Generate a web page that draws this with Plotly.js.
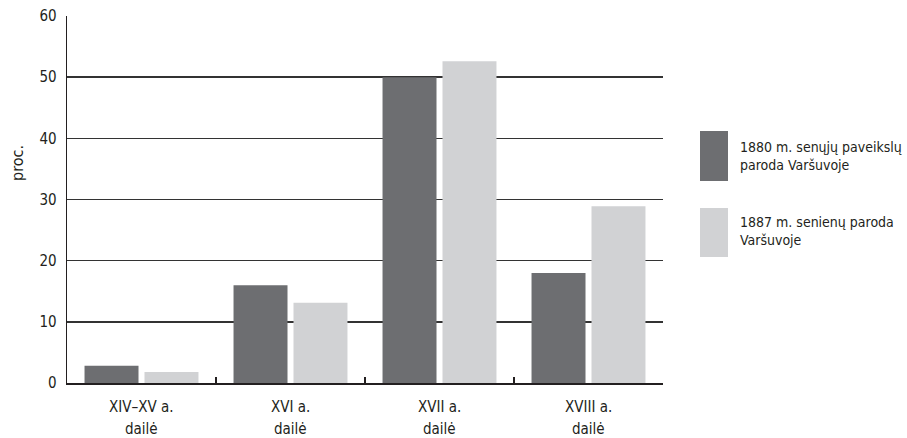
<!DOCTYPE html>
<html>
<head>
<meta charset="utf-8">
<script src="https://cdn.plot.ly/plotly-3.0.1.min.js"></script>
<style>html,body{margin:0;padding:0;background:#fff;}#chart{width:907px;height:438px;}</style>
</head>
<body>
<div id="chart"></div>
<script>
const labelLine1 = ["XIV–XV a.", "XVI a.", "XVII a.", "XVIII a."];
const labelLine2 = ["dailė", "dailė", "dailė", "dailė"];
const categories = labelLine1.map((t, i) => t + " " + labelLine2[i]);
const series1Name = "1880 m. senųjų paveikslų<br>paroda Varšuvoje";
const series2Name = "1887 m. senienų paroda<br>Varšuvoje";
const series1Values = [2.8, 16, 50, 18];
const series2Values = [1.8, 13.1, 52.6, 28.9];
const yTicks = [0, 10, 20, 30, 40, 50, 60];
const yTitle = "proc.";

const FONT = "'DejaVu Sans Condensed', 'Liberation Sans Narrow', sans-serif";
const INK = "#231f20";
const dark = "#6d6e71", light = "#d1d2d4";

const data = [
  {type: "bar", x: categories, y: series1Values, name: series1Name, marker: {color: dark}, showlegend: false, hoverinfo: "skip"},
  {type: "bar", x: categories, y: series2Values, name: series2Name, marker: {color: light}, showlegend: false, hoverinfo: "skip"}
];

// plot area: x 67..663, y 16..383
const PL = 67, PR = 663, PT = 16, PB = 383;
const yOf = py => (PB - py) / (PB - PT);
const xOf = px => (px - PL) / (PR - PL);

const annotations = [
  {text: yTitle, xref: "paper", yref: "paper", x: xOf(17), y: yOf(163), textangle: -90, showarrow: false, xanchor: "center", yanchor: "middle", font: {family: FONT, size: 16, color: INK}},
  {text: series1Name, xref: "paper", yref: "paper", x: xOf(738), y: yOf(156), showarrow: false, xanchor: "left", yanchor: "middle", align: "left", font: {family: FONT, size: 14, color: INK}},
  {text: series2Name, xref: "paper", yref: "paper", x: xOf(738), y: yOf(231), showarrow: false, xanchor: "left", yanchor: "middle", align: "left", font: {family: FONT, size: 14, color: INK}}
];
categories.forEach((c, i) => {
  annotations.push({text: labelLine1[i], xref: "x", yref: "paper", x: c, y: yOf(407), showarrow: false, xanchor: "center", yanchor: "middle", font: {family: FONT, size: 15, color: INK}});
  annotations.push({text: labelLine2[i], xref: "x", yref: "paper", x: c, y: yOf(429), showarrow: false, xanchor: "center", yanchor: "middle", font: {family: FONT, size: 15, color: INK}});
});

const layout = {
  width: 907, height: 438,
  margin: {l: PL, r: 907 - PR, t: PT, b: 438 - PB},
  paper_bgcolor: "#fff", plot_bgcolor: "#fff",
  font: {family: FONT, size: 15, color: INK},
  barmode: "group",
  bargap: 0.195,
  bargroupgap: 0.1,
  xaxis: {
    type: "category",
    showline: true, linecolor: INK, linewidth: 1.5,
    ticks: "inside", ticklen: 6, tickcolor: INK, tickwidth: 1.3,
    tickson: "boundaries",
    showticklabels: false,
    showgrid: false, zeroline: false,
    fixedrange: true
  },
  yaxis: {
    range: [0, 60],
    tickvals: yTicks,
    showline: true, linecolor: INK, linewidth: 1.3,
    ticks: "", showgrid: true, gridcolor: "#333333", gridwidth: 1.4,
    zeroline: false,
    tickfont: {family: FONT, size: 15, color: INK},
    ticklabelstandoff: 6,
    fixedrange: true
  },
  shapes: [
    {type: "rect", xref: "paper", yref: "paper", x0: xOf(700), x1: xOf(728), y0: yOf(181), y1: yOf(131), fillcolor: dark, line: {width: 0}},
    {type: "rect", xref: "paper", yref: "paper", x0: xOf(700), x1: xOf(728), y0: yOf(257), y1: yOf(208), fillcolor: light, line: {width: 0}}
  ],
  annotations: annotations
};

Plotly.newPlot("chart", data, layout, {displayModeBar: false, staticPlot: true});
</script>
</body>
</html>
